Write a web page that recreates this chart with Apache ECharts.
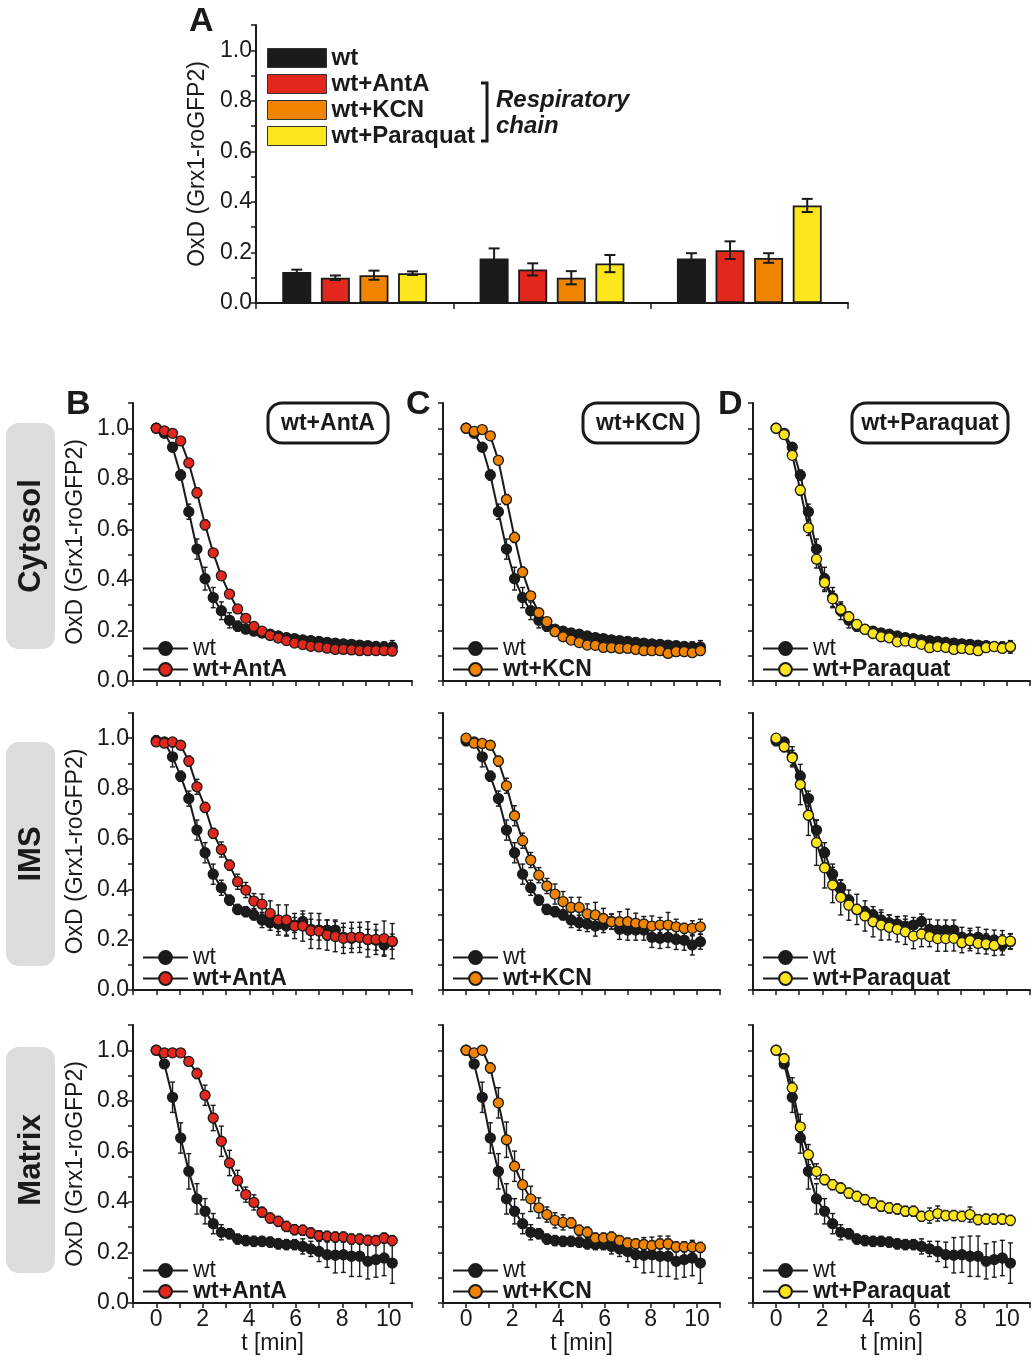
<!DOCTYPE html>
<html>
<head>
<meta charset="utf-8">
<script src="https://cdn.jsdelivr.net/npm/echarts@6/dist/echarts.min.js"></script>
<style>
html,body{margin:0;padding:0;background:#fff;}
#chart{width:1033px;height:1361px;}
</style>
</head>
<body>
<div id="chart"></div>
<script>
// ---------- DATA ----------
const barCategories = ['Cytosol', 'IMS', 'Matrix'];
const barNames = ['wt', 'wt+AntA', 'wt+KCN', 'wt+Paraquat'];
const barWt   = [0.123, 0.176, 0.176];
const barAntA = [0.100, 0.133, 0.209];
const barKCN  = [0.110, 0.100, 0.178];
const barPq   = [0.118, 0.156, 0.386];
const barWtErr   = [0.009, 0.040, 0.021];
const barAntAErr = [0.009, 0.024, 0.035];
const barKCNErr  = [0.018, 0.026, 0.019];
const barPqErr   = [0.007, 0.034, 0.026];

const time = [0, 0.35, 0.7, 1.05, 1.4, 1.75, 2.1, 2.45, 2.8, 3.15, 3.5, 3.85, 4.2, 4.55, 4.9,
              5.25, 5.6, 5.95, 6.3, 6.65, 7.0, 7.35, 7.7, 8.05, 8.4, 8.75, 9.1, 9.45, 9.8, 10.15];

const cytWt   = [1.0,0.98,0.925,0.815,0.67,0.522,0.405,0.33,0.278,0.24,0.217,0.205,0.197,0.19,0.185,0.178,0.172,0.168,0.163,0.16,0.157,0.153,0.15,0.147,0.145,0.142,0.14,0.137,0.135,0.135];
const cytAntA = [1.0,0.99,0.98,0.95,0.863,0.745,0.618,0.507,0.416,0.344,0.285,0.248,0.216,0.197,0.18,0.17,0.16,0.15,0.144,0.137,0.135,0.13,0.125,0.125,0.123,0.12,0.12,0.12,0.12,0.118];
const cytKCN  = [1.0,0.988,0.995,0.97,0.873,0.718,0.568,0.431,0.337,0.27,0.235,0.195,0.175,0.162,0.152,0.142,0.141,0.133,0.132,0.129,0.129,0.125,0.12,0.12,0.12,0.109,0.116,0.116,0.112,0.12];
const cytPq   = [1.0,0.975,0.893,0.755,0.606,0.482,0.389,0.325,0.283,0.254,0.224,0.204,0.188,0.175,0.171,0.155,0.158,0.152,0.145,0.132,0.136,0.133,0.125,0.129,0.125,0.12,0.132,0.136,0.129,0.136];

const imsWt   = [0.99,0.985,0.926,0.849,0.76,0.635,0.545,0.46,0.406,0.357,0.32,0.311,0.298,0.278,0.267,0.262,0.254,0.258,0.272,0.241,0.238,0.238,0.238,0.209,0.205,0.209,0.201,0.198,0.179,0.192];
const imsAntA = [0.985,0.98,0.985,0.972,0.909,0.807,0.725,0.622,0.558,0.496,0.43,0.397,0.353,0.341,0.304,0.278,0.278,0.254,0.254,0.235,0.234,0.218,0.212,0.205,0.209,0.209,0.201,0.201,0.204,0.194];
const imsKCN  = [1.0,0.98,0.979,0.972,0.909,0.811,0.692,0.593,0.516,0.456,0.413,0.381,0.351,0.328,0.328,0.302,0.298,0.284,0.271,0.271,0.271,0.265,0.262,0.254,0.258,0.258,0.251,0.245,0.245,0.251];
const imsPq   = [1.0,0.966,0.922,0.816,0.694,0.585,0.485,0.417,0.368,0.337,0.32,0.294,0.271,0.258,0.249,0.241,0.231,0.214,0.222,0.212,0.204,0.204,0.205,0.188,0.196,0.185,0.183,0.177,0.196,0.194];

const matWt   = [1.0,0.946,0.814,0.653,0.521,0.412,0.363,0.314,0.28,0.274,0.253,0.247,0.244,0.244,0.241,0.234,0.231,0.231,0.224,0.214,0.204,0.191,0.189,0.191,0.185,0.185,0.165,0.172,0.178,0.158];
const matAntA = [1.0,0.99,0.99,0.99,0.956,0.908,0.822,0.732,0.64,0.554,0.485,0.429,0.398,0.359,0.336,0.323,0.303,0.29,0.288,0.277,0.266,0.264,0.261,0.261,0.253,0.253,0.248,0.247,0.257,0.247];
const matKCN  = [1.0,0.99,1.0,0.93,0.792,0.646,0.541,0.468,0.412,0.376,0.35,0.327,0.319,0.317,0.288,0.28,0.257,0.257,0.261,0.247,0.237,0.234,0.231,0.227,0.234,0.234,0.222,0.222,0.222,0.22];
const matPq   = [1.0,0.966,0.851,0.697,0.587,0.521,0.488,0.468,0.455,0.435,0.422,0.409,0.396,0.383,0.376,0.372,0.363,0.363,0.343,0.346,0.354,0.346,0.346,0.343,0.35,0.33,0.332,0.332,0.332,0.327];

const cytWtErr   = [0,0.01,0.015,0.02,0.03,0.04,0.045,0.04,0.035,0.03,0.02,0.015,0.015,0.01,0.01,0.01,0.01,0.01,0.01,0.01,0.01,0.01,0.015,0.01,0.01,0.01,0.01,0.015,0.02,0.025];
const cytAntAErr = [0,0.005,0.01,0.01,0.015,0.02,0.02,0.015,0.015,0.01,0.01,0.01,0.01,0.01,0.01,0.01,0.01,0.01,0.01,0.01,0.01,0.01,0.01,0.01,0.01,0.01,0.01,0.01,0.01,0.01];
const cytKCNErr  = [0,0.005,0.01,0.01,0.015,0.02,0.02,0.02,0.015,0.01,0.01,0.01,0.01,0.01,0.01,0.01,0.01,0.01,0.01,0.01,0.01,0.015,0.01,0.01,0.01,0.01,0.01,0.01,0.01,0.015];
const cytPqErr   = [0,0.01,0.015,0.02,0.03,0.035,0.035,0.03,0.025,0.02,0.015,0.01,0.01,0.01,0.01,0.01,0.01,0.01,0.01,0.01,0.01,0.01,0.01,0.01,0.01,0.01,0.01,0.01,0.015,0.02];

const imsWtErr   = [0.02,0.01,0.04,0.02,0.03,0.04,0.04,0.04,0.03,0.02,0.02,0.02,0.02,0.03,0.03,0.03,0.04,0.03,0.03,0.04,0.04,0.04,0.04,0.04,0.04,0.04,0.04,0.04,0.04,0.03];
const imsAntAErr = [0.01,0.01,0.01,0.01,0.02,0.03,0.02,0.02,0.03,0.02,0.03,0.03,0.03,0.04,0.05,0.06,0.06,0.05,0.06,0.07,0.07,0.06,0.06,0.06,0.06,0.06,0.07,0.06,0.07,0.07];
const imsKCNErr  = [0.01,0.01,0.01,0.01,0.02,0.03,0.04,0.03,0.03,0.03,0.03,0.04,0.04,0.04,0.04,0.04,0.05,0.04,0.03,0.04,0.05,0.04,0.03,0.04,0.03,0.05,0.03,0.02,0.03,0.03];
const imsPqErr   = [0.01,0.02,0.03,0.08,0.08,0.09,0.08,0.07,0.07,0.06,0.06,0.06,0.06,0.06,0.05,0.05,0.05,0.05,0.05,0.04,0.05,0.05,0.05,0.04,0.04,0.04,0.04,0.04,0.04,0.03];

const matWtErr   = [0,0.01,0.06,0.06,0.07,0.06,0.05,0.04,0.03,0.02,0.02,0.02,0.02,0.02,0.02,0.02,0.02,0.02,0.03,0.03,0.04,0.05,0.07,0.07,0.08,0.08,0.07,0.07,0.07,0.08];
const matAntAErr = [0,0.01,0.01,0.01,0.01,0.02,0.04,0.05,0.06,0.05,0.04,0.03,0.03,0.02,0.02,0.02,0.02,0.02,0.02,0.02,0.02,0.02,0.02,0.02,0.02,0.02,0.02,0.02,0.02,0.02];
const matKCNErr  = [0,0.01,0.01,0.02,0.06,0.07,0.06,0.06,0.05,0.04,0.03,0.03,0.03,0.02,0.02,0.02,0.02,0.02,0.02,0.02,0.02,0.02,0.02,0.02,0.02,0.02,0.02,0.02,0.02,0.02];
const matPqErr   = [0,0.02,0.04,0.05,0.04,0.03,0.02,0.02,0.02,0.02,0.02,0.02,0.02,0.02,0.02,0.02,0.02,0.02,0.02,0.03,0.03,0.02,0.02,0.02,0.03,0.02,0.02,0.02,0.02,0.02];

const rowLabels = ['Cytosol', 'IMS', 'Matrix'];
const panelLetters = ['A', 'B', 'C', 'D'];
const yAxisName = 'OxD (Grx1-roGFP2)';
const xAxisName = 't [min]';
const respLabel = ['Respiratory', 'chain'];

// ---------- STYLE ----------
const FONT = 'Liberation Sans, Arial, Helvetica, sans-serif';
const INK = '#1a1a1a';
const COLORS = {'wt': '#1b1b1b', 'wt+AntA': '#e2281d', 'wt+KCN': '#f08400', 'wt+Paraquat': '#fde51c'};
const FS = 23;

const wtByRow = [[cytWt, cytWtErr], [imsWt, imsWtErr], [matWt, matWtErr]];
const columns = [
  {name: 'wt+AntA',     rows: [[cytAntA, cytAntAErr], [imsAntA, imsAntAErr], [matAntA, matAntAErr]]},
  {name: 'wt+KCN',      rows: [[cytKCN, cytKCNErr], [imsKCN, imsKCNErr], [matKCN, matKCNErr]]},
  {name: 'wt+Paraquat', rows: [[cytPq, cytPqErr], [imsPq, imsPqErr], [matPq, matPqErr]]}
];

const colLeft = [133, 443, 753];
const colWidth = [279, 277, 277];
const rowTop = [403, 713, 1025];
const rowHeight = [278, 277, 278];

function errRender(capW) {
  return function (params, api) {
    const x = api.value(0), y = api.value(1), e = api.value(2);
    if (!e) return null;
    const hi = api.coord([x, y + e]);
    const lo = api.coord([x, y - e]);
    const st = {stroke: INK, lineWidth: 1.4, fill: null};
    return {type: 'group', children: [
      {type: 'line', shape: {x1: hi[0], y1: hi[1], x2: lo[0], y2: lo[1]}, style: st},
      {type: 'line', shape: {x1: hi[0] - capW, y1: hi[1], x2: hi[0] + capW, y2: hi[1]}, style: st},
      {type: 'line', shape: {x1: lo[0] - capW, y1: lo[1], x2: lo[0] + capW, y2: lo[1]}, style: st}
    ]};
  };
}

const grids = [], xAxes = [], yAxes = [], series = [], legends = [];

const axisLineStyle = {show: true, onZero: false, lineStyle: {color: INK, width: 2}};
const tickStyle = {show: true, length: 5, lineStyle: {color: INK, width: 1.5}};

function yLabelFmt(v) {
  const k = Math.round(v * 10);
  return k % 2 === 0 ? (k / 10).toFixed(1) : '';
}

// line panels
for (let c = 0; c < 3; c++) {
  for (let r = 0; r < 3; r++) {
    const gi = grids.length;
    grids.push({left: colLeft[c], top: rowTop[r], width: colWidth[c], height: rowHeight[r], containLabel: false});
    xAxes.push({
      gridIndex: gi, type: 'value', min: -1, max: 11, interval: 1,
      axisLine: axisLineStyle, axisTick: tickStyle, splitLine: {show: false},
      axisLabel: {show: r === 2, fontSize: FS, fontFamily: FONT, color: INK, margin: 5,
        formatter: function (v) { return (v >= 0 && v <= 10 && v % 2 === 0) ? String(v) : ''; }},
      name: r === 2 ? xAxisName : '', nameLocation: 'middle', nameGap: 27,
      nameTextStyle: {fontSize: FS, fontFamily: FONT, color: INK}
    });
    yAxes.push({
      gridIndex: gi, type: 'value', min: 0, max: 1.1, interval: 0.1,
      axisLine: axisLineStyle, axisTick: tickStyle, splitLine: {show: false},
      axisLabel: {show: c === 0, fontSize: FS, fontFamily: FONT, color: INK, margin: 4, formatter: yLabelFmt},
      name: c === 0 ? yAxisName : '', nameLocation: 'middle', nameGap: 46, nameRotate: 90,
      nameTextStyle: {fontSize: FS, fontFamily: FONT, color: INK}
    });
    const wt = wtByRow[r];
    const tr = columns[c].rows[r];
    const tname = columns[c].name;
    series.push({
      type: 'custom', xAxisIndex: gi, yAxisIndex: gi, z: 2, silent: true, animation: false,
      renderItem: errRender(2.5), encode: {x: 0, y: 1},
      data: time.map((t, i) => [t, wt[0][i], wt[1][i]])
    });
    series.push({
      type: 'line', name: 'wt', xAxisIndex: gi, yAxisIndex: gi, z: 3, animation: false,
      symbol: 'circle', symbolSize: 10, showAllSymbol: true,
      lineStyle: {color: INK, width: 2},
      itemStyle: {color: COLORS['wt'], borderColor: INK, borderWidth: 1.3},
      data: time.map((t, i) => [t, wt[0][i]])
    });
    series.push({
      type: 'custom', xAxisIndex: gi, yAxisIndex: gi, z: 2, silent: true, animation: false,
      renderItem: errRender(2.5), encode: {x: 0, y: 1},
      data: time.map((t, i) => [t, tr[0][i], tr[1][i]])
    });
    series.push({
      type: 'line', name: tname, xAxisIndex: gi, yAxisIndex: gi, z: 4, animation: false,
      symbol: 'circle', symbolSize: 10, showAllSymbol: true,
      lineStyle: {color: INK, width: 2},
      itemStyle: {color: COLORS[tname], borderColor: INK, borderWidth: 1.3},
      data: time.map((t, i) => [t, tr[0][i]])
    });
    legends.push({
      data: ['wt', tname], orient: 'vertical', left: colLeft[c] + 9,
      top: rowTop[r] + rowHeight[r] - 44, itemWidth: 45, itemHeight: 16, itemGap: -2,
      selectedMode: false, padding: 0,
      formatter: function (n) { return n === 'wt' ? '{n|wt}' : '{b|' + n + '}'; },
      textStyle: {color: INK, fontFamily: FONT, rich: {
        n: {fontSize: FS, fontFamily: FONT, color: INK, lineHeight: 21},
        b: {fontSize: FS, fontFamily: FONT, color: INK, fontWeight: 'bold', lineHeight: 21}}}
    });
  }
}

// bar panel A
const gA = grids.length;
grids.push({left: 256, top: 25, width: 592, height: 278});
xAxes.push({gridIndex: gA, type: 'category', data: barCategories,
  axisLine: axisLineStyle, axisTick: {show: true, length: 6, lineStyle: {color: INK, width: 1.5}},
  axisLabel: {show: false}, splitLine: {show: false}});
yAxes.push({gridIndex: gA, type: 'value', min: 0, max: 1.1, interval: 0.1,
  axisLine: axisLineStyle, axisTick: tickStyle, splitLine: {show: false},
  axisLabel: {fontSize: FS, fontFamily: FONT, color: INK, margin: 4, formatter: yLabelFmt},
  name: yAxisName, nameLocation: 'middle', nameGap: 45, nameRotate: 90,
  nameTextStyle: {fontSize: FS, fontFamily: FONT, color: INK}});
const barVals = [barWt, barAntA, barKCN, barPq];
const barErrs = [barWtErr, barAntAErr, barKCNErr, barPqErr];
const BAR_W = 29, BAR_STEP = 38.6;
barNames.forEach((n, k) => {
  series.push({type: 'bar', name: n, xAxisIndex: gA, yAxisIndex: gA, barWidth: BAR_W,
    barGap: ((BAR_STEP - BAR_W) / BAR_W * 100) + '%', animation: false, z: 2,
    itemStyle: {color: COLORS[n], borderColor: INK, borderWidth: 1.8},
    data: barVals[k]});
});
series.push({type: 'custom', xAxisIndex: gA, yAxisIndex: gA, z: 5, silent: true, animation: false,
  encode: {x: 0, y: 1},
  renderItem: function (params, api) {
    const ci = api.value(0), v = api.value(1), e = api.value(2), k = api.value(3);
    const off = (k - 1.5) * BAR_STEP;
    const hi = api.coord([ci, v + e]), lo = api.coord([ci, v - e]);
    const x = hi[0] + off, cw = 5.5;
    const st = {stroke: INK, lineWidth: 2, fill: null};
    return {type: 'group', children: [
      {type: 'line', shape: {x1: x, y1: hi[1], x2: x, y2: lo[1]}, style: st},
      {type: 'line', shape: {x1: x - cw, y1: hi[1], x2: x + cw, y2: hi[1]}, style: st},
      {type: 'line', shape: {x1: x - cw, y1: lo[1], x2: x + cw, y2: lo[1]}, style: st}
    ]};
  },
  data: [].concat(...barVals.map((vals, k) => vals.map((v, ci) => [ci, v, barErrs[k][ci], k])))
});
legends.push({
  data: barNames.map(n => ({name: n, icon: 'rect'})), orient: 'vertical', left: 267, top: 46,
  itemWidth: 59, itemHeight: 19, itemGap: 2, selectedMode: false, padding: 0,
  itemStyle: {borderColor: '#333', borderWidth: 1},
  formatter: function (n) { return '{b|' + n + '}'; },
  textStyle: {color: INK, fontFamily: FONT, rich: {
    b: {fontSize: 24, fontFamily: FONT, color: INK, fontWeight: 'bold', lineHeight: 19}}}
});

// ---------- GRAPHIC ----------
const graphics = [];
const letterPos = [[189, 22], [66, 405], [406, 405], [718, 405]];
panelLetters.forEach((L, i) => graphics.push({type: 'text', x: letterPos[i][0], y: letterPos[i][1],
  style: {text: L, font: 'bold 34px ' + FONT, fill: INK, textVerticalAlign: 'middle'}}));

const boxes = [[268, 403, 120], [583, 403, 115], [852, 403, 156]];
columns.forEach((col, i) => {
  const b = boxes[i];
  graphics.push({type: 'rect', shape: {x: b[0], y: b[1], width: b[2], height: 40, r: 14},
    style: {fill: '#fff', stroke: INK, lineWidth: 3}, z: 10});
  graphics.push({type: 'text', x: b[0] + b[2] / 2, y: b[1] + 21, z: 11,
    style: {text: col.name, font: 'bold ' + FS + 'px ' + FONT, fill: INK, textAlign: 'center', textVerticalAlign: 'middle'}});
});

const rowBoxY = [[423, 226], [742, 224], [1047, 226]];
rowLabels.forEach((lab, i) => {
  const b = rowBoxY[i];
  graphics.push({type: 'rect', shape: {x: 6, y: b[0], width: 49, height: b[1], r: 13},
    style: {fill: '#dcdcdc'}, z: 1});
  graphics.push({type: 'text', x: 31, y: b[0] + b[1] / 2, rotation: Math.PI / 2, z: 2,
    style: {text: lab, font: 'bold 31px ' + FONT, fill: INK, textAlign: 'center', textVerticalAlign: 'middle'}});
});

graphics.push({type: 'polyline', shape: {points: [[481, 83], [487, 83], [487, 141], [481, 141]]},
  style: {stroke: INK, lineWidth: 3, fill: null}});
respLabel.forEach((t, i) => graphics.push({type: 'text', x: 496, y: 100 + i * 26,
  style: {text: t, font: 'italic bold 24px ' + FONT, fill: INK, textVerticalAlign: 'middle'}}));

const chart = echarts.init(document.getElementById('chart'), null, {renderer: 'canvas'});
chart.setOption({
  animation: false,
  backgroundColor: '#ffffff',
  grid: grids, xAxis: xAxes, yAxis: yAxes, series: series, legend: legends, graphic: graphics
});
</script>
</body>
</html>
